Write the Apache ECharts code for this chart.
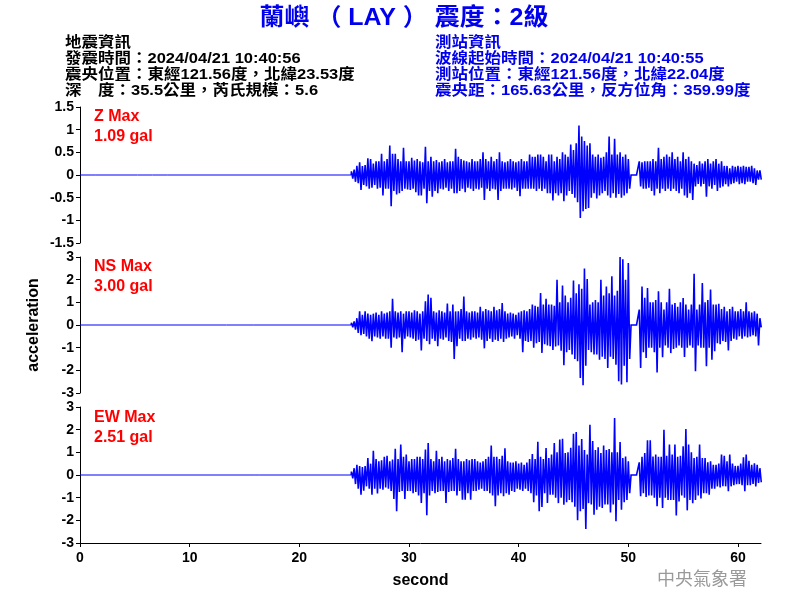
<!DOCTYPE html>
<html><head><meta charset="utf-8">
<script src="https://cdn.jsdelivr.net/npm/echarts@6/dist/echarts.min.js"></script>
<style>html,body{margin:0;padding:0;background:#fff}#c{width:800px;height:600px}</style>
</head><body><div id="c"></div>
<script>
// ---- data ----
const T0 = 24.75;       // first binned sample (s)
const DT = 0.25;        // bin width (s)
const xTicks = [0, 10, 20, 30, 40, 50, 60];
const zTicks = [-1.5, 1.5, 0.5];
const hTicks = [-3, 3, 1];
const maxLabels = ['Z Max\n1.09 gal', 'NS Max\n3.00 gal', 'EW Max\n2.51 gal'];
const zPre  = [[0,0],[1.45,0],[1.5,0.015],[1.55,-0.015],[1.6,0],[5.25,0],[5.3,0.015],[5.35,-0.015],[5.4,0],[6.6,0],[6.65,0.02],[6.7,-0.02],[6.75,0],[7.95,0],[8.0,0.015],[8.05,-0.015],[8.1,0]];
const nsPre = [[0,0],[13.35,0],[13.4,0.03],[13.45,-0.03],[13.5,0],[15.85,0],[15.9,0.03],[15.95,-0.03],[16.0,0]];
const ewPre = [[0,0],[15.95,0],[16.0,0.03],[16.05,-0.03],[16.1,0],[16.4,0],[16.45,0.03],[16.5,-0.03],[16.55,0]];

const zHi = [0.08,
 0.12,0.2,0.28,0.2, 0.22,0.37,0.35,0.25, 0.3,0.3,0.47,0.3, 0.35,0.65,0.47,0.47, 0.35,0.3,0.6,0.3,
 0.3,0.38,0.32,0.35, 0.3,0.28,0.62,0.3, 0.4,0.3,0.33,0.28, 0.3,0.35,0.28,0.3, 0.3,0.58,0.4,0.35,
 0.32,0.3,0.28,0.35, 0.3,0.3,0.35,0.5, 0.35,0.3,0.4,0.3, 0.35,0.5,0.3,0.28, 0.3,0.35,0.3,0.28,
 0.3,0.35,0.3,0.3, 0.45,0.4,0.4,0.45, 0.45,0.4,0.3,0.45, 0.45,0.3,0.4,0.35, 0.5,0.45,0.4,0.67,
 0.55,0.7,1.09,0.85, 0.75,0.65,0.7,0.45, 0.4,0.45,0.38,0.4, 0.5,0.85,0.45,0.8, 0.45,0.5,0.4,0.45,
 0.35,0,0,0, 0.3,0.28,0.3,0.3, 0.3,0.35,0.3,0.6, 0.35,0.4,0.45,0.4, 0.5,0.35,0.4,0.3,
 0.5,0.35,0.4,0.3, 0.25,0.22,0.3,0.25, 0.3,0.35,0.25,0.3, 0.35,0.25,0.3,0.2, 0.2,0.15,0.2,0.18,
 0.2,0.18,0.2,0.18, 0.18,0.2,0.15,0.1, 0.1];
const zLo = [-0.08,
 -0.15,-0.18,-0.33,-0.22, -0.25,-0.3,-0.28,-0.22, -0.3,-0.28,-0.45,-0.3, -0.3,-0.69,-0.35,-0.43, -0.4,-0.35,-0.3,-0.32,
 -0.33,-0.3,-0.38,-0.45, -0.45,-0.3,-0.62,-0.35, -0.48,-0.35,-0.4,-0.3, -0.32,-0.28,-0.35,-0.3, -0.4,-0.4,-0.35,-0.3,
 -0.38,-0.28,-0.3,-0.35, -0.3,-0.32,-0.28,-0.55, -0.3,-0.35,-0.3,-0.32, -0.55,-0.35,-0.3,-0.3, -0.3,-0.32,-0.28,-0.35,
 -0.47,-0.3,-0.3,-0.3, -0.3,-0.3,-0.35,-0.3, -0.35,-0.3,-0.4,-0.4, -0.56,-0.4,-0.45,-0.4, -0.58,-0.45,-0.35,-0.42,
 -0.5,-0.6,-0.95,-0.8, -0.75,-0.73,-0.5,-0.4, -0.52,-0.45,-0.4,-0.35, -0.45,-0.5,-0.4,-0.5, -0.42,-0.5,-0.45,-0.4,
 -0.3,0,0,0, -0.25,-0.3,-0.3,-0.28, -0.35,-0.45,-0.3,-0.4, -0.3,-0.35,-0.3,-0.35, -0.3,-0.35,-0.4,-0.3,
 -0.45,-0.5,-0.4,-0.55, -0.25,-0.2,-0.25,-0.2, -0.48,-0.25,-0.3,-0.22, -0.35,-0.28,-0.25,-0.2, -0.25,-0.2,-0.18,-0.15,
 -0.2,-0.18,-0.2,-0.15, -0.15,-0.18,-0.22,-0.1, -0.1];

const nsHi = [0.1,
 0.16,0.3,0.6,0.45, 0.6,0.5,0.45,0.5, 0.55,0.45,0.6,0.5, 0.55,0.6,1.16,0.6, 0.55,0.6,0.5,0.6,
 0.6,0.55,0.65,0.6, 0.5,0.6,1.05,1.34, 1.2,0.6,0.55,0.65, 0.6,0.55,0.95,0.6, 0.9,0.6,0.6,0.7,
 1.26,0.6,0.55,0.6, 0.6,0.55,0.8,0.6, 0.7,0.65,0.6,0.8, 0.65,0.7,0.97,0.6, 0.5,0.55,0.5,0.45,
 0.55,0.6,0.65,0.6, 0.7,0.9,0.85,0.8, 1.41,0.9,1.16,0.9, 0.9,0.85,2.0,1.0, 1.74,1.3,1.0,1.2,
 1.96,1.4,1.8,1.6, 2.49,2.03,0.9,1.0, 1.1,1.0,2.0,1.3, 1.7,1.4,2.15,1.3, 1.51,3.0,2.9,2.0,
 2.74,0,0,0, 0.68,1.7,1.2,1.63, 1.0,1.0,1.1,1.49, 1.0,0.68,1.0,1.6, 0.9,0.97,0.8,1.0,
 1.19,0.9,0.68,0.9, 2.26,0.68,0.9,1.85, 1.0,1.1,1.56,0.9, 0.9,0.94,0.7,0.8, 0.6,0.7,0.8,0.6,
 0.6,0.7,0.6,1.0, 0.6,0.55,0.6,0.5, 0.3];
const nsLo = [-0.1,
 -0.2,-0.35,-0.45,-0.4, -0.5,-0.6,-0.72,-0.5, -0.55,-0.6,-0.5,-0.6, -0.6,-1.0,-0.55,-0.6, -0.55,-1.2,-0.6,-0.5,
 -0.55,-0.6,-0.7,-0.65, -1.12,-0.6,-0.7,-0.85, -0.6,-0.7,-0.94,-0.6, -0.65,-0.55,-0.7,-0.75, -1.5,-0.94,-0.6,-0.7,
 -0.7,-0.6,-0.65,-0.55, -0.6,-0.55,-0.65,-1.03, -0.7,-0.6,-0.75,-0.65, -0.7,-0.6,-0.75,-0.6, -0.55,-0.5,-0.6,-0.45,
 -0.6,-1.2,-0.7,-0.75, -0.7,-1.0,-0.8,-0.75, -1.23,-0.85,-0.9,-0.94, -1.1,-0.95,-0.9,-1.13, -1.78,-1.2,-1.1,-1.3,
 -1.5,-1.6,-2.34,-2.66, -1.8,-1.1,-1.2,-1.3, -1.3,-1.53,-1.4,-1.5, -1.9,-1.4,-1.5,-1.75, -2.48,-2.63,-1.8,-2.53,
 -1.5,0,0,0, -1.9,-1.2,-1.46,-1.0, -1.0,-1.2,-2.09,-1.0, -1.42,-0.9,-1.0,-1.24, -1.06,-1.0,-0.9,-1.0,
 -1.41,-1.0,-0.9,-1.0, -2.04,-0.9,-1.0,-1.0, -1.82,-1.0,-1.53,-1.16, -0.8,-0.85,-0.7,-0.75, -1.12,-0.7,-0.6,-0.65,
 -0.5,-0.6,-0.5,-0.55, -0.5,-0.45,-0.5,-0.9, -0.1];

const ewHi = [0.15,
 0.3,0.45,0.4,0.35, 0.4,0.75,0.5,1.07, 0.7,0.6,0.65,0.8, 0.85,0.6,0.68,1.16, 0.7,1.34,0.8,0.9,
 0.6,0.7,0.7,0.8, 0.8,0.7,1.12,1.41, 0.7,0.6,1.07,0.7, 0.8,0.6,0.7,0.65, 0.75,1.16,0.7,0.6,
 0.6,0.7,0.65,0.7, 0.7,0.6,0.55,0.6, 0.7,0.8,1.3,0.8, 0.8,0.7,0.85,1.18, 0.6,0.55,0.55,0.6,
 0.5,0.55,0.45,0.55, 0.7,0.93,0.7,1.47, 0.8,0.7,1.19,0.75, 0.9,1.41,1.0,1.56, 1.6,0.97,1.0,1.2,
 1.82,1.9,1.3,1.59, 1.1,0.9,2.22,1.5, 1.1,1.22,0.97,1.3, 1.1,1.15,1.0,2.51, 1.0,1.46,0.75,0.82,
 0.6,0,0,0, 0.56,0.8,0.97,1.53, 1.53,0.82,0.9,0.8, 0.8,2.0,0.85,1.34, 0.9,1.34,0.8,0.85,
 1.27,2.03,1.34,1.0, 0.75,0.8,1.34,0.75, 0.75,0.56,0.6,0.45, 0.45,0.5,0.9,0.85, 0.6,0.9,0.5,0.4,
 0.4,0.5,0.78,0.9, 0.63,0.45,0.52,0.45, 0.3];
const ewLo = [-0.15,
 -0.4,-0.6,-0.87,-0.69, -0.5,-0.6,-0.87,-0.6, -0.82,-0.6,-0.65,-0.55, -0.6,-0.7,-1.06,-1.6, -0.75,-0.7,-1.06,-0.7,
 -0.7,-0.8,-0.75,-0.9, -1.23,-0.8,-1.78,-0.9, -0.7,-0.8,-0.75,-0.7, -0.7,-1.23,-0.75,-0.7, -0.7,-0.9,-0.7,-1.09,
 -1.09,-0.8,-1.09,-0.7, -0.7,-0.65,-0.6,-0.7, -0.7,-0.8,-0.9,-1.38, -0.9,-0.8,-0.94,-0.8, -0.87,-0.7,-0.75,-0.6,
 -0.65,-0.7,-0.6,-0.7, -0.8,-1.2,-0.9,-1.6, -1.41,-0.8,-1.23,-0.87, -0.87,-1.0,-1.24,-1.0, -1.31,-1.2,-1.1,-1.2,
 -1.4,-2.0,-1.6,-1.5, -2.38,-1.24,-1.3,-1.75, -1.53,-1.4,-1.45,-1.3, -1.3,-1.65,-1.3,-2.04, -1.1,-1.53,-1.2,-1.1,
 -0.8,0,0,0, -0.94,-0.8,-0.97,-0.9, -0.9,-1.0,-1.38,-1.0, -1.46,-1.0,-1.1,-1.1, -1.1,-1.79,-1.17,-0.9,
 -1.0,-1.56,-1.1,-1.24, -1.1,-0.9,-1.04,-0.8, -0.8,-0.87,-0.6,-0.6, -0.5,-0.55,-0.5,-0.5, -0.72,-0.5,-0.45,-0.4,
 -0.4,-0.45,-0.72,-0.45, -0.45,-0.4,-0.5,-0.35, -0.32];

// ---- build ----
function buildPre(pre) {
  const d = pre.slice();
  d.push([T0, 0]);
  return d;
}
function buildWave(hi, lo) {
  const d = [[T0 - 0.02, 0]];
  for (let i = 0; i < hi.length; i++) {
    d.push([T0 + i * DT, hi[i]]);
    d.push([T0 + i * DT + DT / 2, lo[i]]);
  }
  return d;
}
const FONT = "'Liberation Sans', Arial, 'Noto Sans CJK TC', sans-serif";
const CJK = "'Liberation Sans', 'Noto Sans CJK TC', sans-serif";
const tops = [107, 257, 407];
const yT = [zTicks, hTicks, hTicks];
const pres = [buildPre(zPre), buildPre(nsPre), buildPre(ewPre)];
const waves = [buildWave(zHi, zLo), buildWave(nsHi, nsLo), buildWave(ewHi, ewLo)];

const grid = [], xAxis = [], yAxis = [], series = [];
for (let k = 0; k < 3; k++) {
  grid.push({left: 80, top: tops[k], width: 681, height: 136, containLabel: false, outerBoundsMode: 'none'});
  const last = k === 2;
  xAxis.push({
    type: 'value', gridIndex: k, min: 0, max: 62.1, interval: 10,
    show: last,
    axisLine: {show: last, onZero: false, lineStyle: {color: '#000', width: 1}},
    axisTick: {show: last, length: 4, lineStyle: {color: '#000'}, customValues: xTicks},
    axisLabel: {show: last, customValues: xTicks, color: '#000', fontWeight: 'bold', fontSize: 14, fontFamily: FONT, margin: 8},
    splitLine: {show: false},
    name: last ? 'second' : '', nameLocation: 'middle', nameGap: 30,
    nameTextStyle: {color: '#000', fontWeight: 'bold', fontSize: 16, fontFamily: FONT}
  });
  yAxis.push({
    type: 'value', gridIndex: k, min: yT[k][0], max: yT[k][1], interval: yT[k][2],
    axisLine: {show: true, onZero: false, lineStyle: {color: '#000', width: 1}},
    axisTick: {show: true, length: 4, lineStyle: {color: '#000'}},
    axisLabel: {color: '#000', fontWeight: 'bold', fontSize: 14, fontFamily: FONT, margin: 6},
    splitLine: {show: false},
    name: k === 1 ? 'acceleration' : '', nameLocation: 'middle', nameGap: 38, nameRotate: 90,
    nameTextStyle: {color: '#000', fontWeight: 'bold', fontSize: 16, fontFamily: FONT}
  });
  series.push({
    type: 'line', xAxisIndex: k, yAxisIndex: k, data: pres[k],
    showSymbol: false, symbol: 'none', sampling: null, animation: false,
    lineStyle: {color: '#0000ff', width: 1}, clip: true
  });
  series.push({
    type: 'line', xAxisIndex: k, yAxisIndex: k, data: waves[k],
    showSymbol: false, symbol: 'none', sampling: null, animation: false,
    lineStyle: {color: '#0000ff', width: 1.6, join: 'miter', miterLimit: 2}, clip: true
  });
}

function txt(x, y, text, font, fill, align, sx) {
  return {type: 'text', x: x, y: y, silent: true, scaleX: sx || 1,
    style: {text: text, font: font, fill: fill, align: align || 'left', verticalAlign: 'middle'}};
}
const infoL = ['地震資訊', '發震時間：2024/04/21 10:40:56', '震央位置：東經121.56度，北緯23.53度', '深　度：35.5公里，芮氏規模：5.6'];
const infoR = ['測站資訊', '波線起始時間：2024/04/21 10:40:55', '測站位置：東經121.56度，北緯22.04度', '震央距：165.63公里，反方位角：359.99度'];
const graphic = [];
graphic.push(txt(404, 18, '蘭嶼 （ LAY ） 震度：2級', 'bold 24px ' + CJK, '#0000ee', 'center', 1.04));
infoL.forEach((s, i) => graphic.push(txt(65, 43 + i * 16, s, 'bold 15px ' + CJK, '#000', 'left', 1.1)));
infoR.forEach((s, i) => graphic.push(txt(435, 43 + i * 16, s, 'bold 15px ' + CJK, '#0000ee', 'left', 1.1)));
const mY = [117, 267, 418];
maxLabels.forEach((s, i) => {
  const p = s.split('\n');
  graphic.push(txt(94, mY[i], p[0], 'bold 16px ' + FONT, '#ff0000'));
  graphic.push(txt(94, mY[i] + 20, p[1], 'bold 16px ' + FONT, '#ff0000'));
});
graphic.push(txt(702, 580, '中央氣象署', '18px ' + CJK, '#9a9a9a', 'center'));

const chart = echarts.init(document.getElementById('c'), null, {renderer: 'canvas'});
chart.setOption({animation: false, backgroundColor: '#fff', grid, xAxis, yAxis, series, graphic});
</script></body></html>
